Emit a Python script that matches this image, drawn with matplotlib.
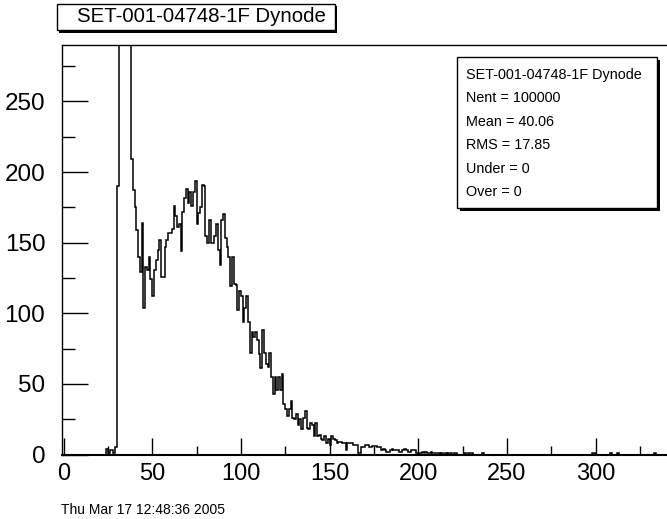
import numpy as np
import matplotlib
matplotlib.use('Agg')
import matplotlib.pyplot as plt
from matplotlib.patches import Rectangle

plt.rcParams['font.family'] = ['Liberation Sans', 'DejaVu Sans']

# ---- data (bin width 1, bin i covers [i, i+1)) ----
n_bins = 341
low_bins = [4, 1, 3, 3, 1, 5]                    # bins 24-29
spike_bins = [190, 3500, 14000, 22000, 20000, 14000, 7000, 2500]   # bins 30-37 (off scale)
body_a = [209, 187, 175, 159, 140, 129, 164, 104, 133, 131, 140, 124,
          112, 131, 138, 145, 152, 126, 126, 147, 152, 157, 157, 160]   # bins 38-61
body_b = [176, 169, 161, 163, 144, 172, 182, 188, 178, 186, 176, 186,
          194, 163, 171, 175, 191, 190, 155, 150, 166, 150, 150, 155,
          163, 145, 134, 166, 170, 153, 147, 140, 119, 140, 121, 120,
          102, 116, 112, 94, 104, 112, 94, 72, 87, 83, 87, 81, 71, 61]  # bins 62-111
tail_a = [88, 72, 64, 62, 72, 55, 43, 55, 46, 55, 46, 57, 36, 32, 27,
          32, 38, 26, 25, 29, 21, 25, 18, 26, 31, 19, 18, 22, 21, 13,
          22, 13, 14, 11, 10, 13, 8, 11, 7, 13, 11, 10, 8, 9]           # bins 112-155
tail_b = [9, 8, 8, 3, 8, 8, 8, 7, 7, 7, 1, 1, 5, 5, 7, 7, 5, 5, 6, 6, 6,
          5, 5, 3, 4, 3, 2, 2, 3, 4, 3, 3, 3, 2, 2, 3, 4, 3, 2, 2, 3, 3,
          3, 1, 0, 1, 2, 1, 2, 1, 1, 2, 1, 1, 1, 1, 0, 1, 0, 1, 0, 1, 1,
          0, 1, 1, 0, 0, 0, 0, 1, 0, 1, 1, 1, 0]                      # bins 156-231
sparse_bins = [236, 298, 299, 308, 312, 333]

counts = np.zeros(n_bins)
counts[24:30] = low_bins
counts[30:38] = spike_bins
counts[38:62] = body_a
counts[62:112] = body_b
counts[112:156] = tail_a
counts[156:156 + len(tail_b)] = tail_b
counts[sparse_bins] = 1
edges = np.arange(n_bins + 1)

title = 'SET-001-04748-1F Dynode'
stats = ['SET-001-04748-1F Dynode', 'Nent = 100000', 'Mean = 40.06',
         'RMS = 17.85', 'Under = 0', 'Over = 0']
date_text = 'Thu Mar 17 12:48:36 2005'

W, H = 667, 519
fig = plt.figure(figsize=(W / 100, H / 100), dpi=100)


def fx(px):
    return px / W


def fy(py):
    return 1 - py / H


ax = fig.add_axes([fx(62), fy(454.5), fx(W - 62), (454.5 - 45) / H])
ax.stairs(counts, edges, color='black', lw=1.1)
ax.set_xlim(-0.9, 340.3)
ax.set_ylim(0, 290)

ax.set_xticks(np.arange(0, 341, 50))
ax.set_xticks(np.arange(25, 341, 50), minor=True)
ax.set_yticks(np.arange(0, 251, 50))
ax.set_yticks(np.arange(25, 288, 50), minor=True)
ax.tick_params(axis='x', which='major', direction='in', length=12, width=1,
               labelsize=17, pad=6)
ax.tick_params(axis='x', which='minor', direction='in', length=6.5, width=1)
ax.tick_params(axis='y', which='major', direction='in', length=18.5, width=1,
               labelsize=17.5, pad=12)
ax.tick_params(axis='y', which='minor', direction='in', length=9.5, width=1)
for s in ax.spines.values():
    s.set_linewidth(1.0)
ax.spines['bottom'].set_linewidth(1.5)
ax.spines['right'].set_visible(False)

# title box with shadow
fig.patches.append(Rectangle((fx(59), fy(33)), fx(278), (33 - 6) / H,
                             transform=fig.transFigure, facecolor='black',
                             edgecolor='black', lw=0, zorder=5))
fig.patches.append(Rectangle((fx(57), fy(30)), fx(278), (30 - 4) / H,
                             transform=fig.transFigure, facecolor='white',
                             edgecolor='black', lw=1, zorder=6))
fig.text(fx(77), fy(17), title, fontsize=14.7, ha='left', va='center', zorder=7)

# stats box with shadow
sx0, sx1, sy0, sy1 = 457, 657, 57, 208
ax.add_patch(Rectangle((fx(sx0 + 3), fy(sy1 + 3)), fx(sx1 - sx0), (sy1 - sy0) / H,
                       transform=fig.transFigure, facecolor='black', lw=0,
                       zorder=5, clip_on=False))
ax.add_patch(Rectangle((fx(sx0), fy(sy1)), fx(sx1 - sx0), (sy1 - sy0) / H,
                       transform=fig.transFigure, facecolor='white',
                       edgecolor='black', lw=1, zorder=6, clip_on=False))
for i, line in enumerate(stats):
    ax.text(fx(466), fy(75 + i * 23.4), line, fontsize=10.4, ha='left',
            va='center', transform=fig.transFigure, zorder=7)

fig.text(fx(61), fy(510), date_text, fontsize=10, ha='left', va='center')

fig.savefig('out.png', dpi=100)
